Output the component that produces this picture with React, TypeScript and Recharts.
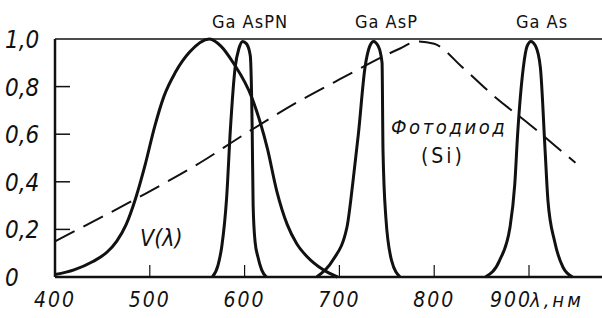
import { LineChart, Line, XAxis, YAxis, ReferenceLine } from 'recharts';

// wavelength (nm) / relative response
const vLambda = [
  { nm: 400, v: 0.01 }, { nm: 420, v: 0.03 }, { nm: 440, v: 0.065 }, { nm: 455, v: 0.105 },
  { nm: 465, v: 0.15 }, { nm: 475, v: 0.22 }, { nm: 485, v: 0.33 }, { nm: 495, v: 0.47 },
  { nm: 505, v: 0.63 }, { nm: 515, v: 0.76 }, { nm: 527, v: 0.86 }, { nm: 542, v: 0.945 },
  { nm: 563, v: 1.0 }, { nm: 575, v: 0.97 }, { nm: 588, v: 0.9 },
  { nm: 608, v: 0.75 }, { nm: 624, v: 0.54 }, { nm: 634, v: 0.36 }, { nm: 645, v: 0.22 },
  { nm: 655, v: 0.14 }, { nm: 666, v: 0.085 }, { nm: 683, v: 0.03 }, { nm: 698, v: 0 },
];

const gaAsPN = [
  { nm: 566, v: 0 }, { nm: 572, v: 0.05 }, { nm: 576, v: 0.13 }, { nm: 581, v: 0.33 },
  { nm: 585, v: 0.62 }, { nm: 590, v: 0.88 }, { nm: 594, v: 0.96 }, { nm: 598, v: 0.99 },
  { nm: 602, v: 0.98 }, { nm: 606, v: 0.93 }, { nm: 608, v: 0.62 }, { nm: 609, v: 0.3 },
  { nm: 611, v: 0.15 }, { nm: 614, v: 0.085 }, { nm: 618, v: 0.03 }, { nm: 623, v: 0 },
];

const gaAsP = [
  { nm: 676, v: 0 }, { nm: 693, v: 0.07 }, { nm: 708, v: 0.21 }, { nm: 714, v: 0.39 },
  { nm: 720, v: 0.6 }, { nm: 727, v: 0.88 }, { nm: 732, v: 0.97 }, { nm: 736, v: 0.99 },
  { nm: 741, v: 0.97 }, { nm: 745, v: 0.9 }, { nm: 746, v: 0.53 }, { nm: 749, v: 0.25 },
  { nm: 755, v: 0.07 }, { nm: 764, v: 0 },
];

const gaAs = [
  { nm: 854, v: 0 }, { nm: 869, v: 0.07 }, { nm: 880, v: 0.21 }, { nm: 885, v: 0.39 },
  { nm: 888, v: 0.6 }, { nm: 894, v: 0.88 }, { nm: 898, v: 0.97 }, { nm: 902, v: 0.99 },
  { nm: 907, v: 0.97 }, { nm: 912, v: 0.88 }, { nm: 917, v: 0.53 }, { nm: 920, v: 0.32 },
  { nm: 927, v: 0.15 }, { nm: 936, v: 0.04 }, { nm: 946, v: 0 },
];

const photodiode = [
  { nm: 400, v: 0.15 }, { nm: 486, v: 0.33 }, { nm: 553, v: 0.48 }, { nm: 600, v: 0.6 },
  { nm: 658, v: 0.74 }, { nm: 700, v: 0.83 }, { nm: 764, v: 0.96 }, { nm: 782, v: 0.99 },
  { nm: 800, v: 0.98 }, { nm: 830, v: 0.88 }, { nm: 866, v: 0.75 }, { nm: 901, v: 0.64 },
  { nm: 925, v: 0.56 }, { nm: 949, v: 0.48 },
];

const xTicks = [400, 500, 600, 700, 800, 900];
const yTicks = [0, 0.2, 0.4, 0.6, 0.8, 1.0];

const font = '"DejaVu Sans Condensed", "DejaVu Sans", sans-serif';

const XTick = (props: any) => {
  const { x, y, payload } = props;
  // the last label is pushed left to make room for the unit
  const dx = payload.value === 900 ? -18 : 0;
  return (
    <g>
      {payload.value !== 400 && (
        <line x1={x} x2={x} y1={y} y2={y - 12} stroke="#111" strokeWidth={1.2} />
      )}
      <text x={x + dx} y={y + 30} textAnchor="middle" fontFamily={font} fontStyle="italic"
        fontSize={21} letterSpacing={2} fill="#111">{payload.value}</text>
    </g>
  );
};

const YTick = (props: any) => {
  const { x, y, payload } = props;
  const v = payload.value;
  const label = v === 0 ? '0' : v.toFixed(1).replace('.', ',');
  return (
    <g>
      {v > 0 && v < 1 && (
        <line x1={x} x2={x + 15} y1={y} y2={y} stroke="#111" strokeWidth={1.5} />
      )}
      <text x={5} y={y + 9} textAnchor="start" fontFamily={font} fontStyle="italic"
        fontSize={24} fill="#111">{label}</text>
    </g>
  );
};

export default function App() {
  return (
    <div style={{ position: 'absolute', left: 0, top: 0, background: '#fff' }}>
      <LineChart width={602} height={318} margin={{ top: 39, right: 0, bottom: 0, left: 0 }}>
        <XAxis type="number" dataKey="nm" domain={[400, 977]} ticks={xTicks} interval={0}
          allowDataOverflow height={41} tickSize={0} tickMargin={0} tick={<XTick />}
          axisLine={{ stroke: '#111', strokeWidth: 2.5 }} />
        <YAxis type="number" dataKey="v" domain={[0, 1]} ticks={yTicks} interval={0}
          width={55} tickSize={0} tickMargin={0} tick={<YTick />}
          axisLine={{ stroke: '#111', strokeWidth: 2.5 }} />
        <ReferenceLine y={1} stroke="#111" strokeWidth={1.5} />
        <Line data={photodiode} dataKey="v" type="monotone" stroke="#111" strokeWidth={2}
          strokeDasharray="22 10" dot={false} isAnimationActive={false} />
        <Line data={vLambda} dataKey="v" type="monotone" stroke="#111" strokeWidth={3}
          dot={false} isAnimationActive={false} />
        <Line data={gaAsPN} dataKey="v" type="monotone" stroke="#111" strokeWidth={3}
          dot={false} isAnimationActive={false} />
        <Line data={gaAsP} dataKey="v" type="monotone" stroke="#111" strokeWidth={3}
          dot={false} isAnimationActive={false} />
        <Line data={gaAs} dataKey="v" type="monotone" stroke="#111" strokeWidth={3}
          dot={false} isAnimationActive={false} />
        <text x={212} y={28} fontFamily={font} fontSize={18} letterSpacing={1} fill="#111">Ga AsPN</text>
        <text x={355} y={28} fontFamily={font} fontSize={18} letterSpacing={1} fill="#111">Ga AsP</text>
        <text x={516} y={28} fontFamily={font} fontSize={18} letterSpacing={1} fill="#111">Ga As</text>
        <text x={140} y={246} fontFamily={font} fontStyle="italic" fontSize={23} fill="#111">V(λ)</text>
        <text x={391} y={134} fontFamily={font} fontStyle="italic" fontSize={20} letterSpacing={2.6} fill="#111">Фотодиод</text>
        <text x={421} y={163} fontFamily={font} fontSize={21} letterSpacing={3} fill="#111">(Si)</text>
        <text x={530} y={307} fontFamily={font} fontStyle="italic" fontSize={20} letterSpacing={3} fill="#111">λ,нм</text>
      </LineChart>
    </div>
  );
}
